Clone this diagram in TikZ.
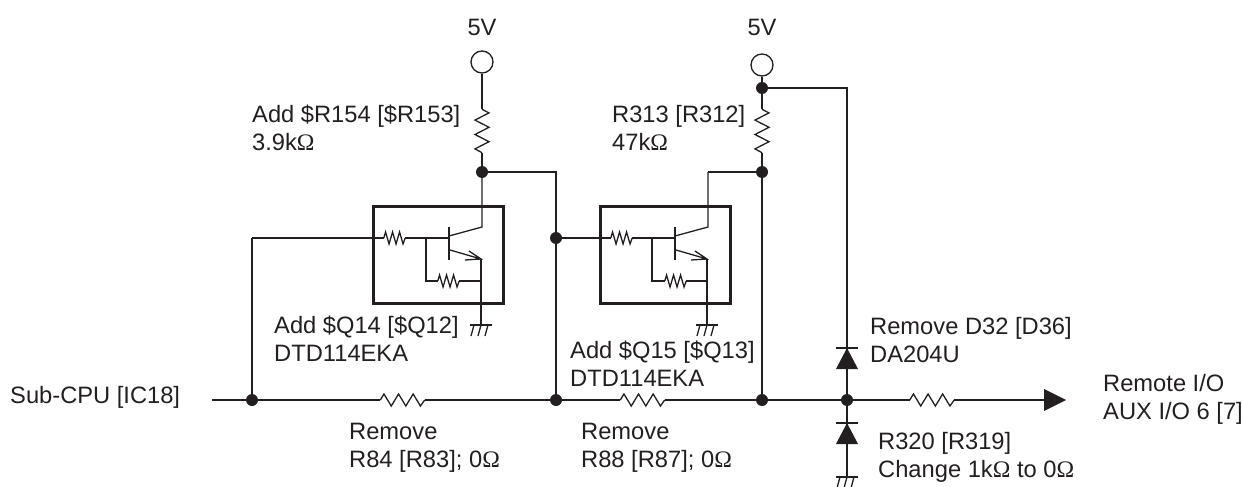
\documentclass[tikz,border=0pt]{standalone}
\usepackage{fontspec}
\setmainfont{Liberation Sans}
\newfontfamily\omfont{Liberation Serif}
\usetikzlibrary{arrows.meta}
\definecolor{ink}{HTML}{231F20}
\newcommand{\Om}{{\omfont Ω}}
\tikzset{
 wire/.style={draw=ink,line width=1.3pt},
 jdot/.style={circle,fill=ink,draw=none,inner sep=0pt,minimum size=12pt},
 term/.style={circle,draw=ink,fill=white,line width=1.3pt,inner sep=0pt,minimum size=22pt},
 tbox/.style={draw=ink,line width=3pt,inner sep=0pt,minimum width=130pt,minimum height=97pt},
 lab/.style={anchor=base west,align=left,inner sep=0pt,text=ink,font=\fontsize{23.7}{28}\selectfont},
 clab/.style={anchor=base,inner sep=0pt,text=ink,font=\fontsize{23.7}{28}\selectfont},
 hrS/.style={inner sep=0pt,minimum width=21pt,minimum height=12pt},
 hrL/.style={inner sep=0pt,minimum width=44pt,minimum height=12pt},
 vrL/.style={inner sep=0pt,minimum width=14pt,minimum height=43pt},
}
\newcommand{\hzig}[2]{%
  \draw[wire,line join=miter] (#1.west) -- ++(#2/2,-6) -- ++(#2,12) -- ++(#2,-12) -- ++(#2,12) -- ++(#2,-12) -- ++(#2,12) -- (#1.east);}
\newcommand{\vzig}[1]{%
  \draw[wire] (#1.north) -- ++(7,3.6) -- ++(-14,7.2) -- ++(14,7.2) -- ++(-14,7.2) -- ++(14,7.2) -- ++(-14,7.2) -- (#1.south);}
\newcommand{\gnd}[3]{%
  \coordinate (#1) at (#2,#3);
  \draw[wire,line width=1.8pt] (#2-11,#3) -- (#2+11,#3);
  \draw[wire] (#2-7,#3) -- (#2-10,#3+11) (#2,#3) -- (#2-3,#3+11) (#2+7,#3) -- (#2+4,#3+11);}
\begin{document}
\begin{tikzpicture}[x=1pt,y=-1pt]
\useasboundingbox (0,0) rectangle (1243,487);
\node[term] (t1) at (482,62) {};
\node[term] (t2) at (762,65) {};
\node[clab] (v1) at (482,36) {5V};
\node[clab] (v2) at (762,36) {5V};
\node[vrL] (ru1) at (482,131) {};
\node[vrL] (ru2) at (762,131) {};
\vzig{ru1}\vzig{ru2}
\node[jdot] (j1) at (482,172) {};
\node[jdot] (j2) at (762,172) {};
\node[jdot] (j3) at (762,88) {};
\node[jdot] (j4) at (556,238) {};
\node[jdot] (a) at (252,400) {};
\node[jdot] (b) at (556,400) {};
\node[jdot] (c) at (762,400) {};
\node[jdot] (d) at (847,400) {};
\coordinate (tA) at (556,172);
\coordinate (tB) at (708,172);
\coordinate (tC) at (847,88);
\coordinate (tD) at (252,238);
\coordinate (in) at (212,400);
\node[tbox] (box1) at (438,254.5) {};
\node[tbox] (box2) at (665,254.5) {};
\node[hrL] (r84) at (402.5,400) {};
\node[hrL] (r88) at (642.5,400) {};
\node[hrL] (r320) at (932,400) {};
\hzig{r84}{7.3}\hzig{r88}{7.3}\hzig{r320}{7.3}
\node[inner sep=0pt] (out) at (1044,400) {};
\fill[ink] (1044,389) -- (1066,400) -- (1044,411) -- cycle;
\draw[wire] (t1) -- (ru1.north) (ru1.south) -- (j1);
\draw[wire] (t2) -- (j3) -- (ru2.north) (ru2.south) -- (j2);
\draw[wire] (j1) -- (tA) -- (j4) -- (b);
\draw[wire] (j2) -- (tB);
\draw[wire] (j3) -- (tC) -- (d);
\draw[wire] (j2) -- (c);
\draw[wire] (tD) -- (a);
\draw[wire] (in) -- (a) -- (r84.west) (r84.east) -- (b) -- (r88.west) (r88.east) -- (c) -- (d) -- (r320.west) (r320.east) -- (out.center);
\node[hrS] (r1a) at (394.5,238) {};
\node[hrS] (r1b) at (448.5,281) {};
\hzig{r1a}{3.5}\hzig{r1b}{3.5}
\coordinate (b1) at (449,238);
\coordinate (j1b) at (426,238);
\coordinate (c1) at (482,227);
\coordinate (e1) at (481,259);
\coordinate (je1) at (481,281);
\coordinate (l1) at (426,281);
\draw[wire] (tD) -- (r1a.west) (r1a.east) -- (b1);
\draw[wire] (j1b) -- (l1) -- (r1b.west) (r1b.east) -- (je1);
\draw[wire,line width=2.2pt] (449,227) -- (449,260);
\draw[wire,line join=miter] (449,236) -- (c1) -- (j1);
\draw[wire] (450,250) -- (e1) (469,251) -- (e1) -- (465,260);
\gnd{g1}{481}{325}
\draw[wire] (e1) -- (g1);
\node[hrS] (r2a) at (621.5,238) {};
\node[hrS] (r2b) at (675.5,281) {};
\hzig{r2a}{3.5}\hzig{r2b}{3.5}
\coordinate (b2) at (675,238);
\coordinate (j2b) at (652,238);
\coordinate (c2) at (708,227);
\coordinate (e2) at (707,259);
\coordinate (je2) at (707,281);
\coordinate (l2) at (652,281);
\draw[wire] (j4) -- (r2a.west) (r2a.east) -- (b2);
\draw[wire] (j2b) -- (l2) -- (r2b.west) (r2b.east) -- (je2);
\draw[wire,line width=2.2pt] (675,227) -- (675,260);
\draw[wire,line join=miter] (675,236) -- (c2) -- (tB);
\draw[wire] (676,250) -- (e2) (695,251) -- (e2) -- (691,260);
\gnd{g2}{707}{325}
\draw[wire] (e2) -- (g2);
\fill[ink] (847,348) -- (858,369) -- (836,369) -- cycle;
\draw[wire,line width=1.8pt] (836,348) -- (858,348);
\fill[ink] (847,423) -- (858,444) -- (836,444) -- cycle;
\draw[wire,line width=1.8pt] (836,423) -- (858,423);
\gnd{g3}{847}{477}
\draw[wire] (d) -- (g3);
\node[lab] (l1a) at (252,150) {Add \$R154 [\$R153]\\3.9k\Om};
\node[lab] (l2a) at (612,150) {R313 [R312]\\47k\Om};
\node[lab] (l3a) at (274,361) {Add \$Q14 [\$Q12]\\DTD114EKA};
\node[lab] (l4a) at (570,386) {Add \$Q15 [\$Q13]\\DTD114EKA};
\node[lab] (l5a) at (870,362) {Remove D32 [D36]\\DA204U};
\node[lab] (l6a) at (10,403) {Sub-CPU [IC18]};
\node[lab] (l7a) at (1103,419) {Remote I/O\\AUX I/O 6 [7]};
\node[lab] (l8a) at (349,467) {Remove\\R84 [R83]; 0\Om};
\node[lab] (l9a) at (581,467) {Remove\\R88 [R87]; 0\Om};
\node[lab] (l10a) at (878,477) {R320 [R319]\\Change 1k\Om{} to 0\Om};
\end{tikzpicture}
\end{document}
